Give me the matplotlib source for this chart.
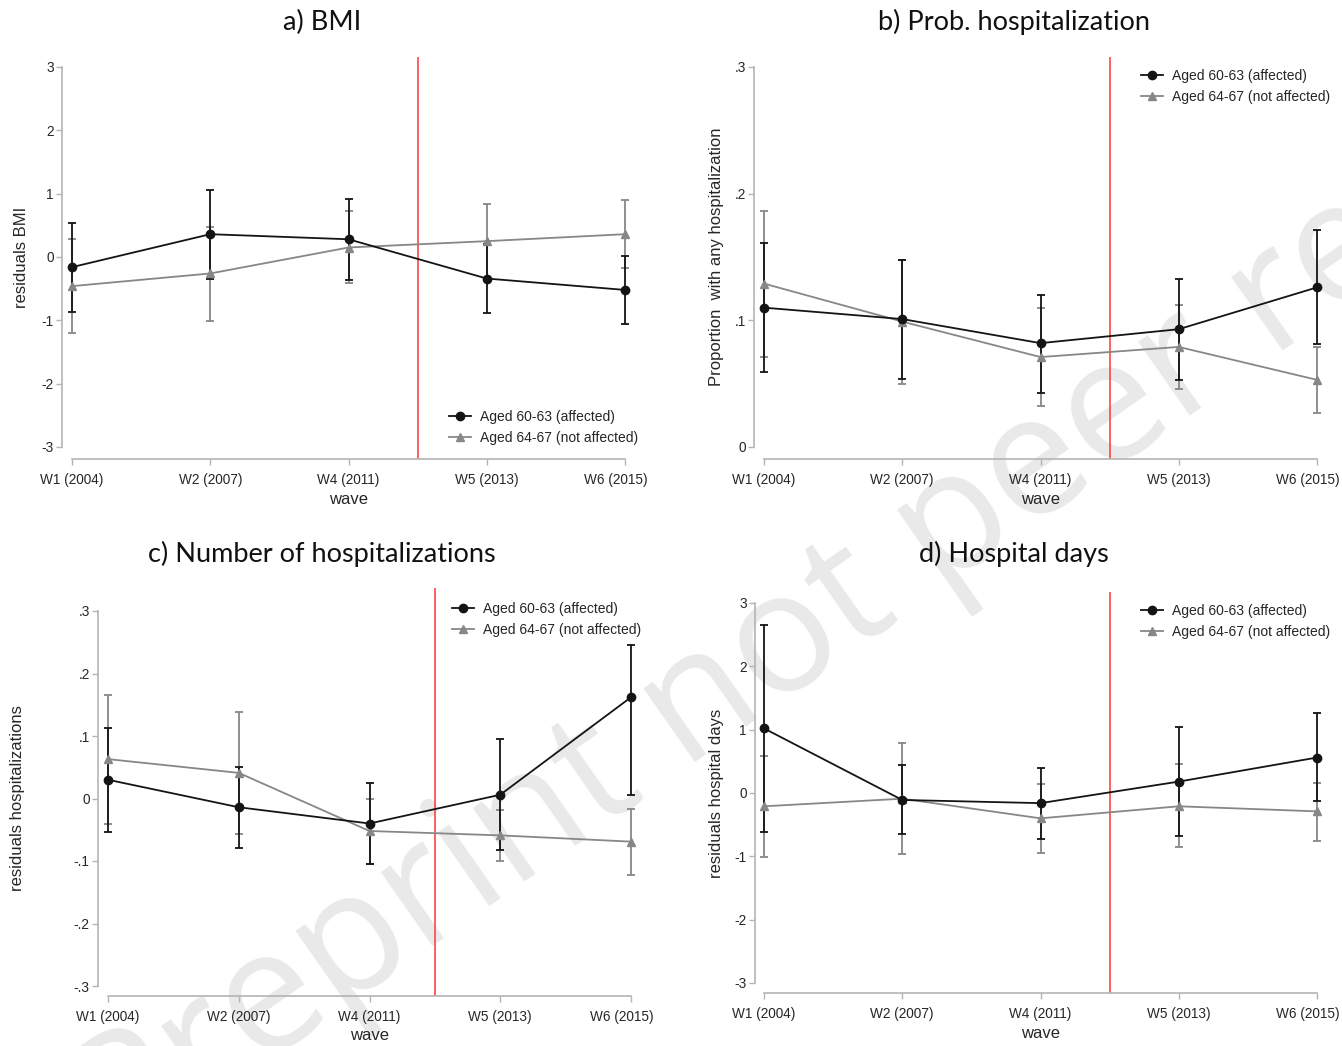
import numpy as np
import matplotlib
matplotlib.use("Agg")
import matplotlib.pyplot as plt
from matplotlib.transforms import ScaledTranslation

# waves on the x axis
waves = ["W1 (2004)", "W2 (2007)", "W4 (2011)", "W5 (2013)", "W6 (2015)"]
lab_aff = "Aged 60-63 (affected)"
lab_not = "Aged 64-67 (not affected)"

# a) BMI
bmi_aff = [-0.16, 0.36, 0.28, -0.34, -0.52]
bmi_aff_lo = [-0.87, -0.34, -0.36, -0.88, -1.06]
bmi_aff_hi = [0.54, 1.06, 0.92, 0.20, 0.01]
bmi_not = [-0.46, -0.26, 0.15, 0.25, 0.36]
bmi_not_lo = [-1.20, -1.01, -0.41, -0.33, -0.17]
bmi_not_hi = [0.28, 0.47, 0.72, 0.83, 0.90]

# b) probability of hospitalization
prob_aff = [0.110, 0.101, 0.082, 0.093, 0.126]
prob_aff_lo = [0.059, 0.054, 0.043, 0.053, 0.081]
prob_aff_hi = [0.161, 0.148, 0.120, 0.133, 0.171]
prob_not = [0.129, 0.099, 0.071, 0.079, 0.053]
prob_not_lo = [0.071, 0.050, 0.032, 0.046, 0.027]
prob_not_hi = [0.186, 0.148, 0.110, 0.112, 0.079]

# c) number of hospitalizations
nhosp_aff = [0.030, -0.014, -0.040, 0.006, 0.162]
nhosp_aff_lo = [-0.053, -0.079, -0.104, -0.083, 0.005]
nhosp_aff_hi = [0.113, 0.051, 0.025, 0.095, 0.246]
nhosp_not = [0.063, 0.041, -0.052, -0.059, -0.069]
nhosp_not_lo = [-0.041, -0.057, -0.104, -0.100, -0.122]
nhosp_not_hi = [0.166, 0.139, 0.000, -0.018, -0.016]

# d) hospital days
days_aff = [1.02, -0.11, -0.16, 0.18, 0.56]
days_aff_lo = [-0.62, -0.64, -0.73, -0.68, -0.13]
days_aff_hi = [2.66, 0.44, 0.40, 1.04, 1.26]
days_not = [-0.21, -0.09, -0.40, -0.21, -0.29]
days_not_lo = [-1.01, -0.96, -0.95, -0.86, -0.75]
days_not_hi = [0.58, 0.79, 0.15, 0.46, 0.16]

W, H = 1342, 1046
fig = plt.figure(figsize=(W / 100, H / 100), dpi=100)
fig.patch.set_facecolor("white")

BLACK = "#141414"
GRAY = "#878787"
AXCOL = "#b4b4b4"
TXT = "#262626"
LABFONT = ["Liberation Sans", "DejaVu Sans"]
TITLEFONT = ["Lato", "Open Sans", "DejaVu Sans"]

# watermark
fig.text(0.088, -0.115, "Preprint not peer reviewed", fontsize=122, color="#e9e9e9",
         family=["Open Sans", "DejaVu Sans"], rotation=35, rotation_mode="anchor",
         ha="left", va="baseline", zorder=-5)


def panel(box, yticks, yticklabels, title, title_xy, ylabel, ylabel_x, legend_xy,
          aff, aff_lo, aff_hi, nota, not_lo, not_hi):
    spine_x, x0, x4, ytop, ybot, axis_y, top, right = box
    ymin, ymax = yticks[0], yticks[-1]
    ax = fig.add_axes([spine_x / W, 1 - axis_y / H, (right - spine_x) / W, (axis_y - top) / H])
    ax.patch.set_alpha(0)
    ux = (x4 - x0) / 4
    ax.set_xlim(-(x0 - spine_x) / ux, 4 + (right - x4) / ux)
    uy = (ybot - ytop) / (ymax - ymin)
    ax.set_ylim(ymin - (axis_y - ybot) / uy, ymax + (ytop - top) / uy)

    x = np.arange(len(waves))
    lines = {}
    for vals, lo, hi, col, mk, lab in [
        (nota, not_lo, not_hi, GRAY, "^", lab_not),
        (aff, aff_lo, aff_hi, BLACK, "o", lab_aff),
    ]:
        vals = np.array(vals)
        err = [vals - np.array(lo), np.array(hi) - vals]
        cont = ax.errorbar(x, vals, yerr=err, color=col, ecolor=col, marker=mk, markersize=6,
                           linewidth=1.3, elinewidth=1.3, capsize=3.2, capthick=1.3)
        lines[lab] = cont[0]

    ax.axvline(2.5, color="#ff4545", linewidth=1.2, zorder=1)

    for s in ["top", "right"]:
        ax.spines[s].set_visible(False)
    for s in ["left", "bottom"]:
        ax.spines[s].set_color(AXCOL)
        ax.spines[s].set_linewidth(1.2)
    ax.spines["left"].set_bounds(ymin, ymax)
    ax.spines["bottom"].set_bounds(0, 4)

    ax.set_xticks(x)
    ax.set_xticklabels(waves, family=LABFONT)
    ax.set_yticks(yticks)
    ax.set_yticklabels(yticklabels, family=LABFONT)
    ax.tick_params(axis="both", length=4, width=1, color=AXCOL, labelcolor=TXT, labelsize=9.8)
    ax.tick_params(axis="x", pad=6)
    ax.tick_params(axis="y", pad=2)
    last = ax.get_xticklabels()[-1]
    last.set_transform(last.get_transform() + ScaledTranslation(-9 / 100, 0, fig.dpi_scale_trans))

    ax.set_xlabel("wave", fontsize=12, color=TXT, family=LABFONT)
    ax.xaxis.set_label_coords((x0 + 2 * ux - spine_x) / (right - spine_x),
                              -(499 - 459) / (axis_y - top))
    ax.xaxis.label.set_va("center")
    ax.set_ylabel(ylabel, fontsize=12, color=TXT, family=LABFONT)
    ax.yaxis.set_label_coords((ylabel_x - spine_x) / (right - spine_x),
                              (axis_y - (ytop + ybot) / 2) / (axis_y - top))
    ax.yaxis.label.set_va("center")

    fig.text(title_xy[0] / W, 1 - title_xy[1] / H, title, fontsize=19.5, color="#111111",
             family=TITLEFONT, ha="center", va="center")

    leg = ax.legend([lines[lab_aff], lines[lab_not]], [lab_aff, lab_not], loc="upper left",
                    bbox_to_anchor=(legend_xy[0] / W, 1 - legend_xy[1] / H),
                    bbox_transform=fig.transFigure, frameon=False,
                    handlelength=1.6, handletextpad=0.65, labelspacing=0.5, borderpad=0,
                    borderaxespad=0, prop={"family": LABFONT, "size": 10})
    for t in leg.get_texts():
        t.set_color(TXT)
    return ax


panel((62, 72, 625, 67, 447, 459, 57, 645),
      [-3, -2, -1, 0, 1, 2, 3], ["-3", "-2", "-1", "0", "1", "2", "3"],
      "a) BMI", (322, 22), "residuals BMI", 22, (449, 410),
      bmi_aff, bmi_aff_lo, bmi_aff_hi, bmi_not, bmi_not_lo, bmi_not_hi)

panel((754, 764, 1317, 67, 447, 459, 57, 1340),
      [0, 0.1, 0.2, 0.3], ["0", ".1", ".2", ".3"],
      "b) Prob. hospitalization", (1014, 22), "Proportion  with any hospitalization", 716, (1141, 69),
      prob_aff, prob_aff_lo, prob_aff_hi, prob_not, prob_not_lo, prob_not_hi)

panel((98, 108, 631, 611, 986, 996, 588, 645),
      [-0.3, -0.2, -0.1, 0, 0.1, 0.2, 0.3], ["-.3", "-.2", "-.1", "0", ".1", ".2", ".3"],
      "c) Number of hospitalizations", (322, 554), "residuals hospitalizations", 18, (452, 602),
      nhosp_aff, nhosp_aff_lo, nhosp_aff_hi, nhosp_not, nhosp_not_lo, nhosp_not_hi)

panel((755, 764, 1317, 603, 983, 993, 592, 1340),
      [-3, -2, -1, 0, 1, 2, 3], ["-3", "-2", "-1", "0", "1", "2", "3"],
      "d) Hospital days", (1014, 554), "residuals hospital days", 716, (1141, 604),
      days_aff, days_aff_lo, days_aff_hi, days_not, days_not_lo, days_not_hi)

fig.savefig("out.png", dpi=100)
